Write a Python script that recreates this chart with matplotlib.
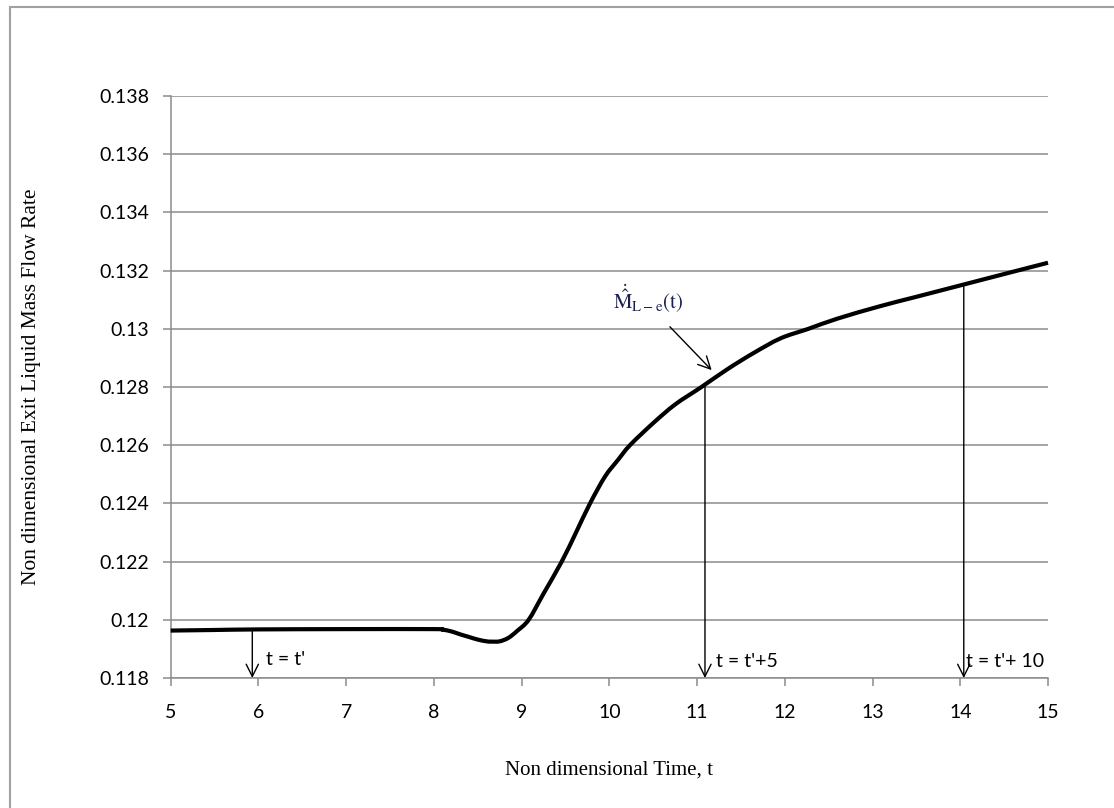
import matplotlib
matplotlib.use("Agg")
import matplotlib.pyplot as plt
from matplotlib.patches import Rectangle, PathPatch
from matplotlib.path import Path

# Non-dimensional exit liquid mass flow rate versus non-dimensional time
time_t = [5.0, 5.5, 6.0, 7.0, 8.0, 8.1, 8.2, 8.3, 8.4, 8.5, 8.6, 8.66, 8.75,
          8.85, 8.95, 9.08, 9.25, 9.457, 9.62, 9.78, 9.95, 10.1, 10.235,
          10.5, 10.75, 11.05, 11.35, 11.64, 11.95, 12.27, 12.6, 13.09, 13.5,
          14.05, 14.6, 15.0]
flow_rate = [0.11963, 0.11965, 0.11967, 0.11968, 0.11968, 0.11966, 0.11960,
             0.11950, 0.11941, 0.11932, 0.11926, 0.11925, 0.11926, 0.11938,
             0.11962, 0.12000, 0.12090, 0.12200, 0.12300, 0.12400,
             0.12492, 0.12550, 0.12600, 0.12676, 0.12740, 0.12800, 0.12862,
             0.12916, 0.12967, 0.13000, 0.13035, 0.13078, 0.13110, 0.13153,
             0.13196, 0.13227]

x_ticks = [5, 6, 7, 8, 9, 10, 11, 12, 13, 14, 15]
y_ticks = [0.118, 0.120, 0.122, 0.124, 0.126, 0.128, 0.130, 0.132, 0.134,
           0.136, 0.138]
y_tick_labels = ["0.118", "0.12", "0.122", "0.124", "0.126", "0.128", "0.13",
                 "0.132", "0.134", "0.136", "0.138"]

# time markers: (time, curve value, label, label x, label y)
marker_t = [5.93, 11.09, 14.04]
marker_v = [0.11967, 0.12810, 0.13153]
marker_labels = ["t = t'", "t = t'+5", "t = t'+ 10"]
marker_label_x = [6.09, 11.21, 14.07]
marker_label_y = [0.11865, 0.11857, 0.11857]

grid_col = "#8c8c8c"
sans = ["Lato", "DejaVu Sans"]
serif = ["Liberation Serif", "DejaVu Serif"]


def smooth_path(xs, ys):
    """Cubic Bezier path through the points (Catmull-Rom style smoothing)."""
    n = len(xs)
    verts = [(xs[0], ys[0])]
    codes = [Path.MOVETO]
    for i in range(n - 1):
        x0, y0 = (xs[i - 1], ys[i - 1]) if i > 0 else (xs[i], ys[i])
        x1, y1 = xs[i], ys[i]
        x2, y2 = xs[i + 1], ys[i + 1]
        x3, y3 = (xs[i + 2], ys[i + 2]) if i + 2 < n else (x2, y2)
        c1 = (x1 + (x2 - x0) / 6.0, y1 + (y2 - y0) / 6.0)
        c2 = (x2 - (x3 - x1) / 6.0, y2 - (y3 - y1) / 6.0)
        verts += [c1, c2, (x2, y2)]
        codes += [Path.CURVE4] * 3
    return Path(verts, codes)


fig = plt.figure(figsize=(11.14, 8.08), dpi=100)
fig.patches.append(Rectangle((10 / 1114, -0.05), 1.1, 1 - 7 / 808 + 0.05,
                             transform=fig.transFigure, fill=False,
                             edgecolor="#a0a0a0", linewidth=1.5, zorder=0))

ax = fig.add_axes([170.7 / 1114, 1 - 678 / 808, (1048 - 170.7) / 1114,
                   (678 - 96) / 808])
ax.set_xlim(5, 15)
ax.set_ylim(0.118, 0.138)
ax.set_xticks(x_ticks)
ax.set_xticklabels([str(v) for v in x_ticks], family=sans, fontsize=14)
ax.set_yticks(y_ticks)
ax.set_yticklabels(y_tick_labels, family=sans, fontsize=14)
ax.tick_params(axis="x", direction="out", length=5.5, width=1.1,
               color=grid_col, pad=13)
ax.tick_params(axis="y", direction="out", length=5.5, width=1.1,
               color=grid_col, pad=10)
ax.grid(axis="y", color=grid_col, linewidth=1.1)
ax.set_axisbelow(True)
for side in ("top", "right"):
    ax.spines[side].set_visible(False)
for side in ("left", "bottom"):
    ax.spines[side].set_color(grid_col)
    ax.spines[side].set_linewidth(1.1)

ax.add_patch(PathPatch(smooth_path(time_t, flow_rate), facecolor="none",
                       edgecolor="black", linewidth=3.0, capstyle="butt",
                       joinstyle="round", zorder=3, clip_on=False))

for tx, tv, lab, lx, ly in zip(marker_t, marker_v, marker_labels,
                               marker_label_x, marker_label_y):
    ax.annotate("", xy=(tx, 0.118), xytext=(tx, tv),
                arrowprops=dict(arrowstyle="->", color="black", lw=1.0,
                                mutation_scale=22, shrinkA=0, shrinkB=0),
                annotation_clip=False, zorder=4)
    ax.text(lx, ly, lab, family=sans, fontsize=14, ha="left", va="center",
            clip_on=False, zorder=5)

# curve label with pointer
plt.rcParams["mathtext.fontset"] = "stix"
ax.annotate("", xy=(11.166, 0.12858), xytext=(10.69, 0.13007),
            arrowprops=dict(arrowstyle="->", color="black", lw=1.0,
                            mutation_scale=22, shrinkA=0, shrinkB=0), zorder=4)
ax.text(10.04, 0.13102, r"$\dot{\hat{\mathrm{M}}}_{\mathrm{L-e}}(\mathrm{t})$",
        fontsize=15, color="#1c2050", ha="left", va="center", zorder=5)

fig.text(609 / 1114, 1 - 770 / 808, "Non dimensional Time, t", family=serif,
         fontsize=15, ha="center", va="center")
fig.text(32 / 1114, 1 - 387 / 808, "Non dimensional Exit Liquid Mass Flow Rate",
         family=serif, fontsize=15.5, ha="center", va="center", rotation=90)

fig.savefig("out.png", dpi=100)
